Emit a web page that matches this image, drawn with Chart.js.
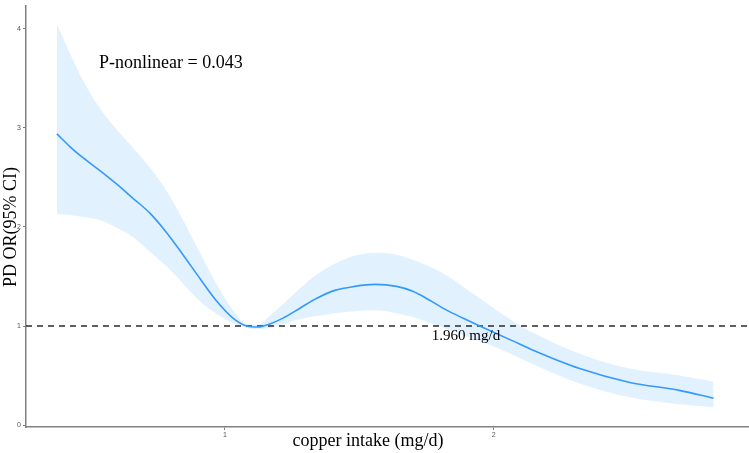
<!DOCTYPE html>
<html lang="en">
<head>
  <meta charset="UTF-8">
  <title>Copper intake and PD</title>
  <script src="https://cdn.jsdelivr.net/npm/chart.js"></script>
  <style>
    body {
      margin: 0;
      background-color: #ffffff;
    }
    #wrap {
      width: 749px;
      height: 453px;
    }
  </style>
</head>
<body>
  <div id="wrap">
    <canvas id="rcsChart" width="749" height="453"></canvas>
  </div>

  <script>
    // copper intake (mg/d) and the spline estimate with its 95% CI
    const intake = [0.375, 0.424, 0.472, 0.535, 0.599, 0.658, 0.721, 0.784, 0.844, 0.907,
                    0.970, 1.030, 1.082, 1.123, 1.167, 1.216, 1.279, 1.342, 1.409, 1.483,
                    1.558, 1.639, 1.699, 1.762, 1.825, 1.885, 1.948, 2.071, 2.134, 2.320,
                    2.506, 2.691, 2.818];
    const orValue = [2.94, 2.81, 2.70, 2.57, 2.43, 2.29, 2.14, 1.94, 1.72, 1.48,
                     1.25, 1.08, 1.00, 0.99, 1.02, 1.08, 1.18, 1.28, 1.36, 1.40,
                     1.42, 1.40, 1.35, 1.26, 1.16, 1.08, 1.00, 0.85, 0.77, 0.57,
                     0.43, 0.35, 0.27];
    const ciUpper = [4.05, 3.75, 3.48, 3.20, 2.98, 2.80, 2.60, 2.36, 2.07, 1.74,
                     1.42, 1.16, 1.02, 1.01, 1.10, 1.22, 1.38, 1.52, 1.63, 1.71,
                     1.74, 1.72, 1.67, 1.60, 1.51, 1.40, 1.28, 1.05, 0.95, 0.72,
                     0.57, 0.50, 0.44];
    const ciLower = [2.13, 2.12, 2.10, 2.07, 1.99, 1.90, 1.75, 1.60, 1.43, 1.25,
                     1.12, 1.03, 0.98, 0.97, 0.98, 1.02, 1.07, 1.10, 1.13, 1.15,
                     1.16, 1.13, 1.09, 1.03, 0.97, 0.91, 0.85, 0.71, 0.63, 0.42,
                     0.28, 0.21, 0.18];

    const xTicks = [1, 2];
    const yTicks = [0, 1, 2, 3, 4];
    const xRange = [0.26, 2.95];
    const yRange = [-0.02, 4.23];
    const refOR = 1;

    const pNote = { text: 'P-nonlinear = 0.043', x: 0.532, y: 3.65 };
    const cutNote = { text: '1.960 mg/d', x: 1.77, y: 0.90 };

    const toPoints = (ys) => intake.map((x, i) => ({ x: x, y: ys[i] }));

    const serif = "'Liberation Serif', 'Times New Roman', serif";

    // axis titles and the two text notes
    const notesPlugin = {
      id: 'notes',
      afterDraw(chart) {
        const c = chart.ctx;
        const xs = chart.scales.x, ys = chart.scales.y;
        c.save();
        c.fillStyle = '#000';
        c.textBaseline = 'middle';

        c.font = '18px ' + serif;
        c.textAlign = 'left';
        c.fillText(pNote.text, xs.getPixelForValue(pNote.x), ys.getPixelForValue(pNote.y));

        c.font = '15px ' + serif;
        c.fillText(cutNote.text, xs.getPixelForValue(cutNote.x), ys.getPixelForValue(cutNote.y));

        c.font = '18px ' + serif;
        c.textAlign = 'center';
        c.fillText('copper intake (mg/d)', 368, 441);

        c.translate(11, 227);
        c.rotate(-Math.PI / 2);
        c.fillText('PD OR(95% CI)', 0, 0);
        c.restore();
      }
    };

    const axisColor = '#808080';

    new Chart(document.getElementById('rcsChart').getContext('2d'), {
      type: 'line',
      data: {
        datasets: [
          {
            label: 'upper',
            data: toPoints(ciUpper),
            order: 3,
            borderWidth: 0,
            pointRadius: 0,
            backgroundColor: '#e2f1fe',
            fill: '+1',
            cubicInterpolationMode: 'monotone'
          },
          {
            label: 'lower',
            data: toPoints(ciLower),
            order: 4,
            borderWidth: 0,
            pointRadius: 0,
            fill: false,
            cubicInterpolationMode: 'monotone'
          },
          {
            label: 'reference',
            data: [{ x: xRange[0], y: refOR }, { x: xRange[1], y: refOR }],
            order: 1,
            borderColor: '#2b2b2b',
            borderWidth: 1.5,
            borderDash: [6, 5],
            pointRadius: 0,
            fill: false
          },
          {
            label: 'OR',
            data: toPoints(orValue),
            order: 0,
            borderColor: '#3399ff',
            borderWidth: 1.6,
            pointRadius: 0,
            fill: false,
            cubicInterpolationMode: 'monotone'
          }
        ]
      },
      options: {
        responsive: false,
        animation: false,
        devicePixelRatio: 1,
        layout: { padding: { top: 2, right: 0, left: 0, bottom: 0 } },
        plugins: {
          legend: { display: false },
          tooltip: { enabled: false }
        },
        scales: {
          x: {
            type: 'linear',
            min: xRange[0],
            max: xRange[1],
            afterBuildTicks: (s) => { s.ticks = xTicks.map(v => ({ value: v })); },
            afterFit: (s) => { s.height = 26; },
            border: { color: axisColor, width: 1.5 },
            grid: { drawOnChartArea: false, tickLength: 3, color: axisColor },
            ticks: { font: { size: 7 }, color: '#555', padding: 1, maxRotation: 0 }
          },
          y: {
            min: yRange[0],
            max: yRange[1],
            afterBuildTicks: (s) => { s.ticks = yTicks.map(v => ({ value: v })); },
            afterFit: (s) => { s.width = 26; },
            border: { color: axisColor, width: 1.5 },
            grid: { drawOnChartArea: false, tickLength: 3, color: axisColor },
            ticks: { font: { size: 7 }, color: '#555', padding: 2 }
          }
        }
      },
      plugins: [notesPlugin]
    });
  </script>
</body>
</html>
